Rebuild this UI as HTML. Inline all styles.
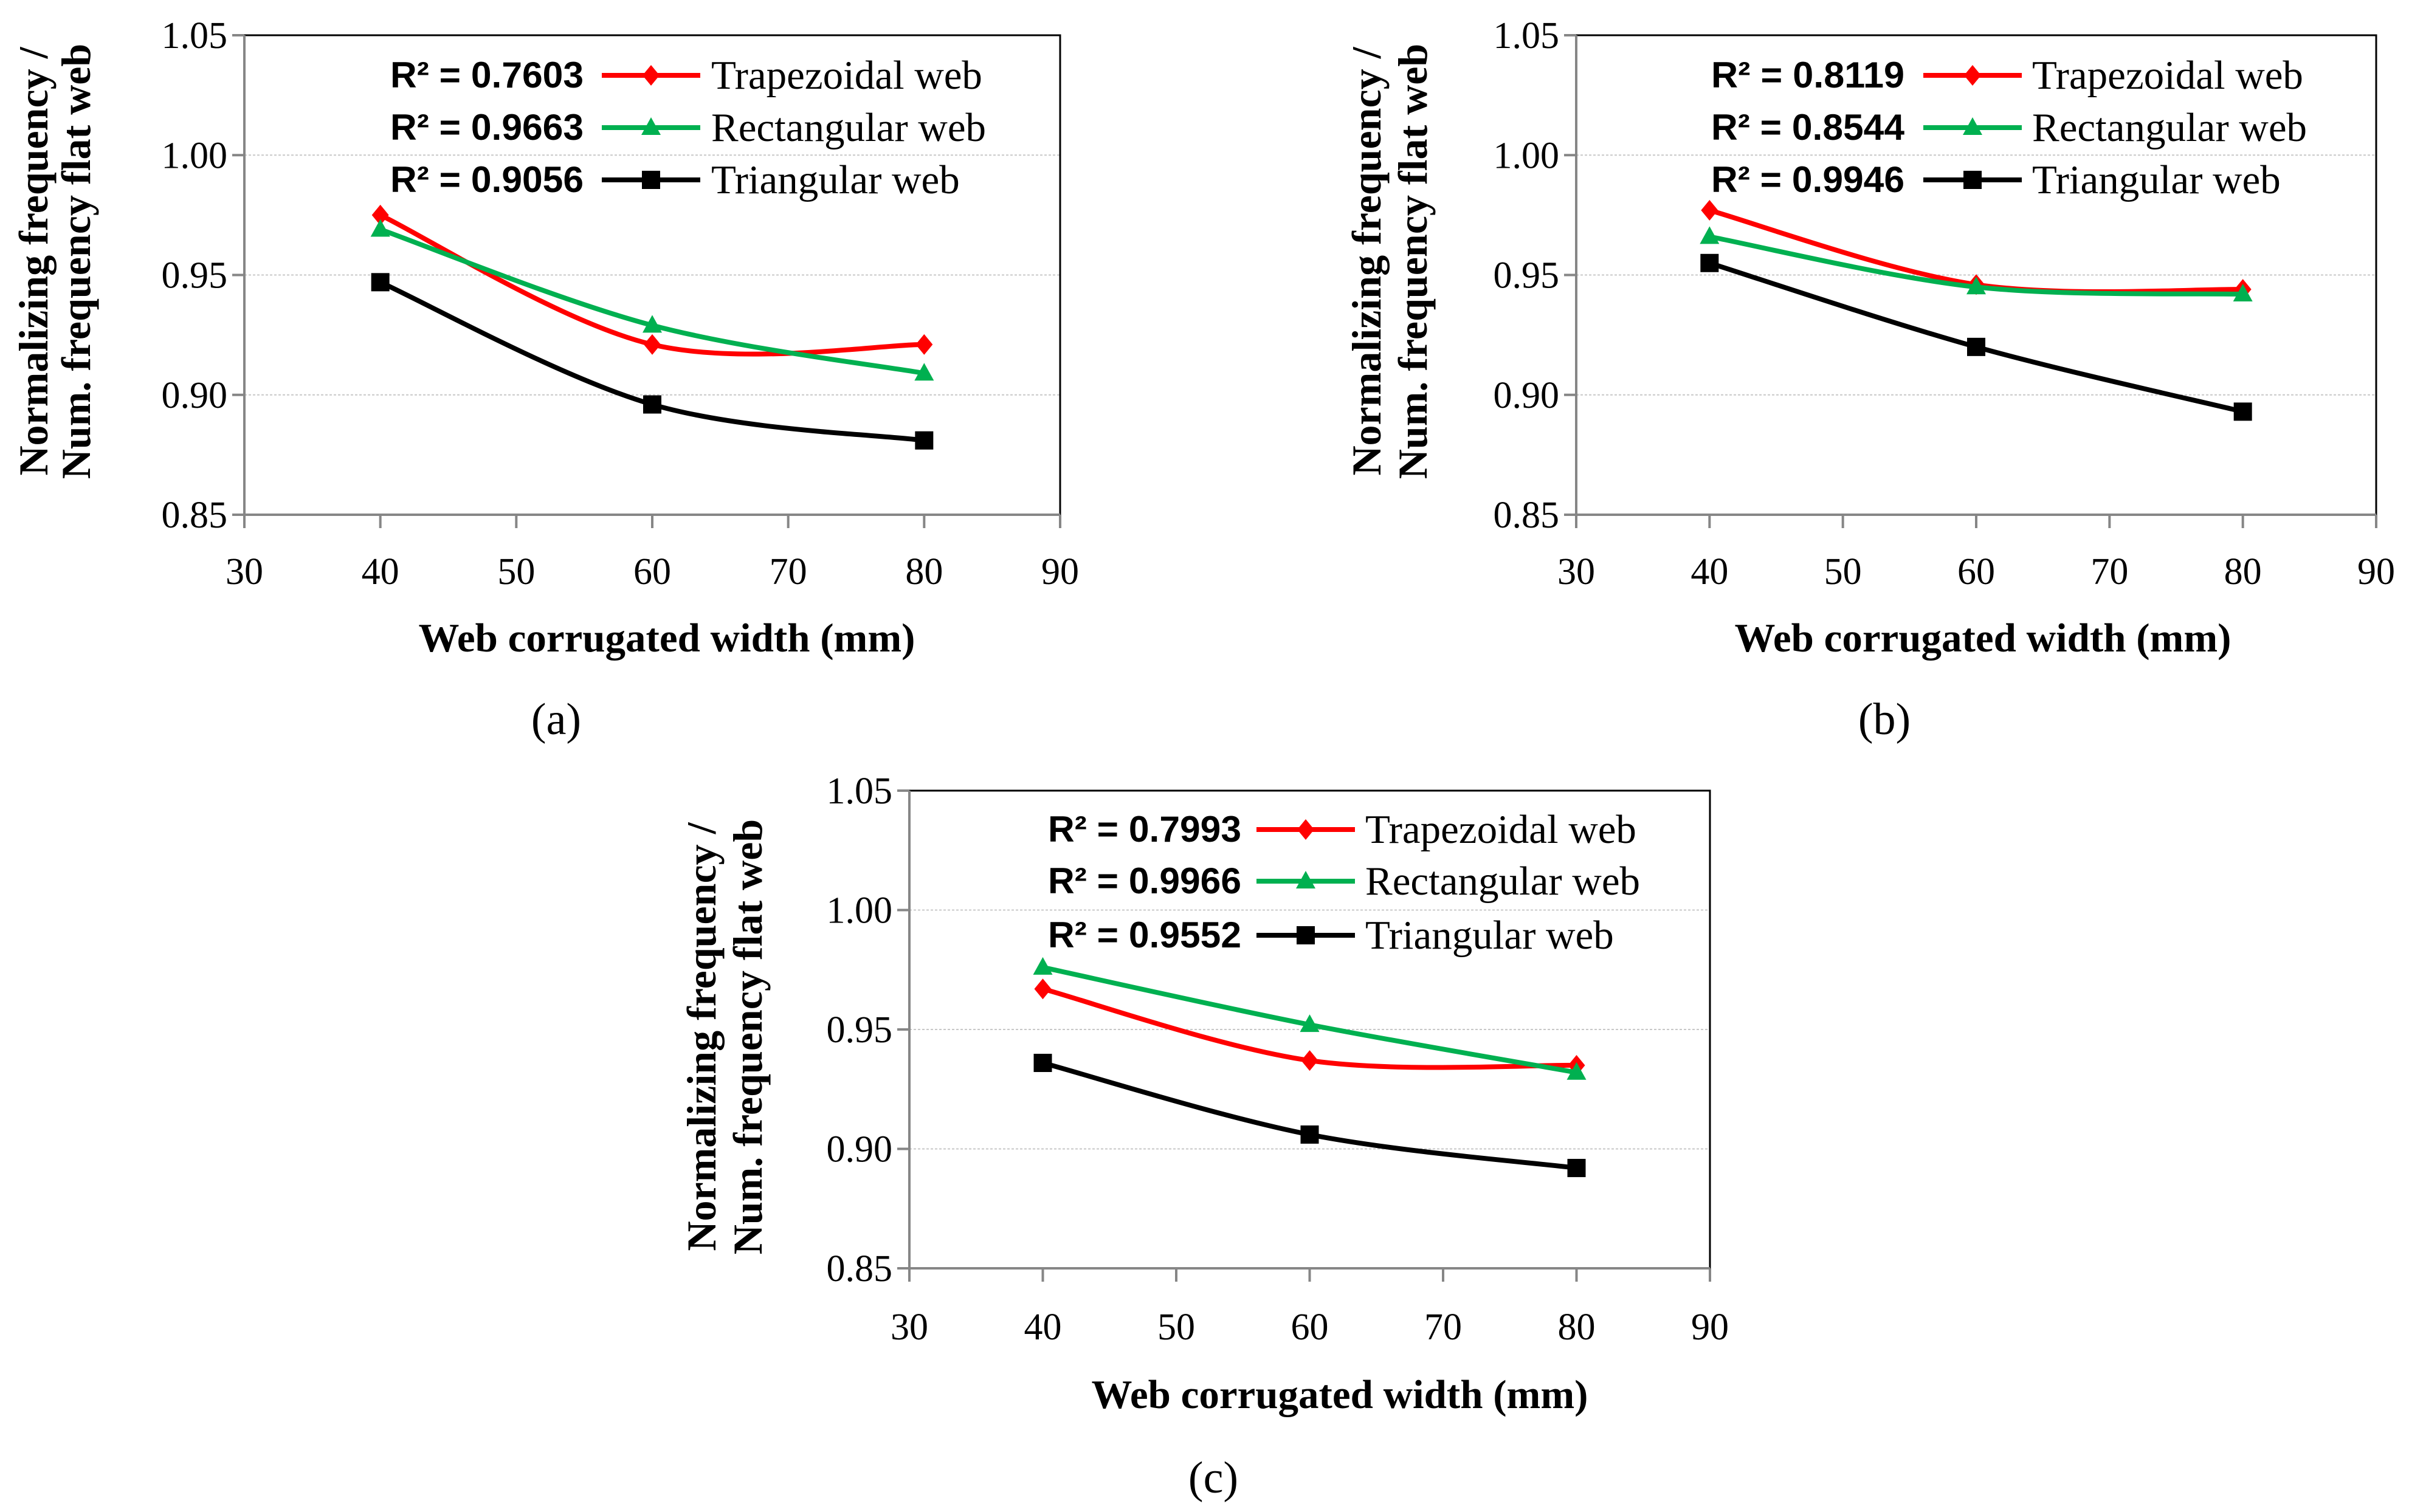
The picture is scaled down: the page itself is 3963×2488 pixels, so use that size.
<!DOCTYPE html>
<html><head><meta charset="utf-8">
<style>
html,body{margin:0;padding:0;background:#fff;}
svg{display:block;}
</style></head>
<body>
<svg id="fig" width="3963" height="2488" viewBox="0 0 3963 2488" xmlns="http://www.w3.org/2000/svg"></svg>
<script>
const categories = [40, 60, 80];
const xTicks = [30, 40, 50, 60, 70, 80, 90];
const yTicks = [0.85, 0.90, 0.95, 1.00, 1.05];
const yTickLabels = ["0.85", "0.90", "0.95", "1.00", "1.05"];
const seriesNames = ["Trapezoidal web", "Rectangular web", "Triangular web"];
const trapA = [0.975, 0.921, 0.921];
const rectA = [0.969, 0.929, 0.909];
const triA  = [0.947, 0.896, 0.881];
const trapB = [0.977, 0.946, 0.944];
const rectB = [0.966, 0.945, 0.942];
const triB  = [0.955, 0.920, 0.893];
const trapC = [0.967, 0.937, 0.935];
const rectC = [0.976, 0.952, 0.932];
const triC  = [0.936, 0.906, 0.892];
const r2A = ["0.7603", "0.9663", "0.9056"];
const r2B = ["0.8119", "0.8544", "0.9946"];
const r2C = ["0.7993", "0.9966", "0.9552"];

const NS = "http://www.w3.org/2000/svg";
const svg = document.getElementById('fig');
function mk(tag, attrs, parent, txt){
  const e = document.createElementNS(NS, tag);
  for (const k in attrs) e.setAttribute(k, attrs[k]);
  if (txt !== undefined) e.textContent = txt;
  (parent || svg).appendChild(e);
  return e;
}
const colors = ["#ff0000", "#00b050", "#000000"];
const markers = ["diamond", "triangle", "square"];

const panels = [
  {id:"a", x0:402, x1:1744, y0:58, y1:847, series:[trapA,rectA,triA], r2:r2A, legR:960, legL0:990, legL1:1152, legT:1170, legY:[124,210,296], titleX:[56,126], titleY:430, xtY:940, xtitleX:1097, xtitleY:1049, capX:915, capY:1183},
  {id:"b", x0:2593, x1:3909, y0:58, y1:847, series:[trapB,rectB,triB], r2:r2B, legR:3133, legL0:3164, legL1:3326, legT:3343, legY:[124,210,296], titleX:[2249,2325], titleY:430, xtY:940, xtitleX:3262, xtitleY:1049, capX:3100, capY:1183},
  {id:"c", x0:1496, x1:2813, y0:1301, y1:2087, series:[trapC,rectC,triC], r2:r2C, legR:2042, legL0:2067, legL1:2229, legT:2246, legY:[1365,1450,1539], titleX:[1155,1231], titleY:1706, xtY:2183, xtitleX:2204, xtitleY:2294, capX:1996, capY:2431}
];

function smoothPath(pts){
  let d = "M" + pts[0][0] + "," + pts[0][1];
  for (let i = 0; i < pts.length - 1; i++){
    const p0 = pts[i-1] || pts[i], p1 = pts[i], p2 = pts[i+1], p3 = pts[i+2] || p2;
    const c1 = [p1[0] + (p2[0]-p0[0])/6, p1[1] + (p2[1]-p0[1])/6];
    const c2 = [p2[0] - (p3[0]-p1[0])/6, p2[1] - (p3[1]-p1[1])/6];
    d += " C" + c1[0] + "," + c1[1] + " " + c2[0] + "," + c2[1] + " " + p2[0] + "," + p2[1];
  }
  return d;
}
function marker(g, type, x, y, color, name){
  let m;
  if (type === "diamond") m = mk('polygon', {points:`${x},${y-17} ${x+14},${y} ${x},${y+17} ${x-14},${y}`, fill:color}, g);
  else if (type === "triangle") m = mk('polygon', {points:`${x},${y-17} ${x+16},${y+12} ${x-16},${y+12}`, fill:color}, g);
  else m = mk('rect', {x:x-15, y:y-15, width:30, height:30, fill:color}, g);
  
  
}

panels.forEach(p => {
  const g = mk('g', {});
  
  
  const xs = v => p.x0 + (v - 30) / 60 * (p.x1 - p.x0);
  const ys = v => p.y1 - (v - 0.85) / 0.20 * (p.y1 - p.y0);
  yTicks.forEach((t, i) => {
    if (i > 0 && i < yTicks.length - 1) {
      const gl = mk('line', {x1:p.x0, x2:p.x1, y1:ys(t), y2:ys(t), stroke:"#c8c8c8", "stroke-width":2, "stroke-dasharray":"4,3"}, g);
      
      
    }
  });
  const fr = mk('path', {d:`M${p.x0},${p.y0} H${p.x1} V${p.y1}`, fill:"none", stroke:"#000", "stroke-width":3}, g);
  
  
  const ax = mk('path', {d:`M${p.x0},${p.y0} V${p.y1} H${p.x1}`, fill:"none", stroke:"#868686", "stroke-width":4}, g);
  
  
  yTicks.forEach((t, i) => {
    mk('line', {x1:p.x0-20, x2:p.x0, y1:ys(t), y2:ys(t), stroke:"#868686", "stroke-width":4}, g);
    const tl = mk('text', {x:p.x0-28, y:ys(t)+21, "text-anchor":"end", "font-family":"Liberation Serif, serif", "font-size":62, fill:"#000"}, g, yTickLabels[i]);
    
    
  });
  xTicks.forEach(t => {
    mk('line', {x1:xs(t), x2:xs(t), y1:p.y1, y2:p.y1+22, stroke:"#868686", "stroke-width":4}, g);
    const tl = mk('text', {x:xs(t), y:p.xtY+21, "text-anchor":"middle", "font-family":"Liberation Serif, serif", "font-size":62, fill:"#000"}, g, String(t));
    
    
  });
  const yt = mk('text', {transform:`translate(${p.titleX[0]+22},${p.titleY}) rotate(-90)`, "text-anchor":"middle", "font-family":"Liberation Serif, serif", "font-weight":"bold", "font-size":68, fill:"#000"}, g, "Normalizing frequency /");
  
  
  const yt2 = mk('text', {transform:`translate(${p.titleX[1]+22},${p.titleY}) rotate(-90)`, "text-anchor":"middle", "font-family":"Liberation Serif, serif", "font-weight":"bold", "font-size":68, fill:"#000"}, g, "Num. frequency flat web");
  
  
  const xt = mk('text', {x:p.xtitleX, y:p.xtitleY+23, "text-anchor":"middle", "font-family":"Liberation Serif, serif", "font-weight":"bold", "font-size":67, fill:"#000"}, g, "Web corrugated width (mm)");
  
  
  const cap = mk('text', {x:p.capX, y:p.capY+25, "text-anchor":"middle", "font-family":"Liberation Serif, serif", "font-size":74, fill:"#000"}, g, "(" + p.id + ")");
  
  
  p.series.forEach((vals, si) => {
    const pts = categories.map((c, i) => [xs(c), ys(vals[i])]);
    const ln = mk('path', {d:smoothPath(pts), fill:"none", stroke:colors[si], "stroke-width":8, "stroke-linejoin":"round"}, g);
    
    
    pts.forEach(pt => marker(g, markers[si], pt[0], pt[1], colors[si], 'data-point'));
  });
  seriesNames.forEach((n, i) => {
    const y = p.legY[i];
    const lg = mk('g', {}, g);
    
    
    mk('text', {x:p.legR, y:y+20, "text-anchor":"end", "font-family":"Liberation Sans Narrow, Liberation Sans, sans-serif", "font-weight":"bold", "font-size":60, fill:"#000", textLength:318, lengthAdjust:"spacingAndGlyphs"}, lg, "R² = " + p.r2[i]);
    mk('line', {x1:p.legL0, x2:p.legL1, y1:y, y2:y, stroke:colors[i], "stroke-width":8}, lg);
    marker(lg, markers[i], (p.legL0+p.legL1)/2, y, colors[i], 'legend-marker');
    mk('text', {x:p.legT, y:y+22, "font-family":"Liberation Serif, serif", "font-size":67, fill:"#000"}, lg, n);
  });
});
</script>
</body></html>
